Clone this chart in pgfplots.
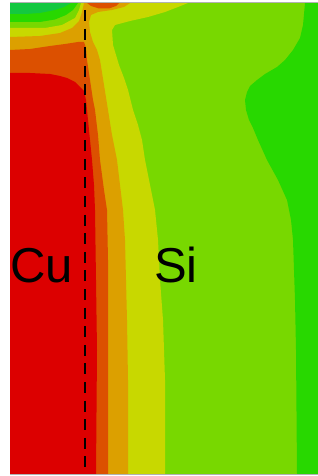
\documentclass[border=0pt]{standalone}
\usepackage{pgfplots}
\pgfplotsset{compat=1.18}
\usepackage{fontspec}
\setmainfont{Liberation Sans}
\definecolor{cred}{RGB}{220,0,0}
\definecolor{cdorange}{RGB}{220,80,0}
\definecolor{corange}{RGB}{220,160,0}
\definecolor{cyellow}{RGB}{200,216,0}
\definecolor{clgreen}{RGB}{120,216,0}
\definecolor{cgreen}{RGB}{40,216,0}
\definecolor{ccgreen}{RGB}{20,200,64}
\begin{document}
\begin{tikzpicture}
\begin{axis}[
  width=318pt, height=476pt, scale only axis,
  xmin=0, xmax=318, ymin=0, ymax=476, y dir=reverse,
  hide axis, clip=true,
]
% background light green
\addplot[fill=clgreen, draw=none] coordinates {(10,3) (318,3) (318,474) (10,474)} -- cycle;
% right green
\addplot[fill=cgreen, draw=none] coordinates {(305,3) (318,3) (318,474) (297,474) (296,350) (295,300) (293,240) (291,220) (287,200) (278,180) (267,160) (258,140) (253,128) (249,120) (246,110) (245,100) (247,92) (250,86) (257,80) (265,74) (277,67) (285,60) (293,50) (300,38) (303,25)} -- cycle;
% yellow
\addplot[fill=cyellow, draw=none] coordinates {(10,28) (45,28) (62,25) (75,18) (79,10) (81,3) (188,3) (178,7) (165,12) (148,17) (130,21) (115,25) (112,30) (113,45) (116,55) (119,65) (124,78) (128,90) (133,110) (138,125) (142,140) (145,160) (150,185) (155,210) (158,240) (160,280) (163,320) (165,380) (165,474) (10,474)} -- cycle;
% orange
\addplot[fill=corange, draw=none] coordinates {(10,37) (40,36) (60,33) (72,28) (79,21) (82,12) (84,3) (130,3) (124,7) (112,10) (98,12) (91,15) (89,22) (90,32) (93,42) (97,50) (100,60) (104,85) (108,110) (112,135) (117,160) (120,185) (123,210) (125,240) (127,320) (128,380) (128,474) (10,474)} -- cycle;
% dark orange
\addplot[fill=cdorange, draw=none] coordinates {(10,50) (30,49) (50,46) (65,44) (78,42) (84,42) (86,48) (87,60) (90,80) (93,100) (95,110) (98,135) (100,160) (104,190) (107,210) (108,260) (108,474) (10,474)} -- cycle;
\addplot[fill=cdorange, draw=none] coordinates {(87,3) (91,6) (99,8.5) (109,8.5) (116,6) (119,3)} -- cycle;
% red
\addplot[fill=cred, draw=none] coordinates {(10,73) (30,73) (50,74) (60,76) (67,78) (75,82) (80,87) (84,91) (86,100) (88,120) (90,140) (92,160) (94,185) (95,210) (96,280) (97,350) (96,474) (10,474)} -- cycle;
% Cu top greens
\addplot[fill=cgreen, draw=none] coordinates {(10,3) (78,3) (73,10) (66,15) (55,19.5) (40,22) (10,22)} -- cycle;
\addplot[fill=ccgreen, draw=none] coordinates {(10,3) (71,3) (64,7) (55,10) (40,13) (25,14) (10,14)} -- cycle;
% frame lines
\addplot[gray!60, line width=0.8pt] coordinates {(10,2.6) (318,2.6)};
\addplot[gray!60, line width=0.8pt] coordinates {(10,474.6) (318,474.6)};
% dashed interface
\addplot[black, line width=2.5pt, dash pattern=on 11pt off 7.6pt] coordinates {(85,10) (85,474)};
\node[anchor=base, font=\fontsize{49}{50}\selectfont] at (axis cs:41.8,282) {Cu};
\node[anchor=base, font=\fontsize{49}{50}\selectfont] at (axis cs:175.8,282) {Si};
\end{axis}
\pgfresetboundingbox
\path (current axis.south west) rectangle (current axis.north east);
\end{tikzpicture}
\end{document}
